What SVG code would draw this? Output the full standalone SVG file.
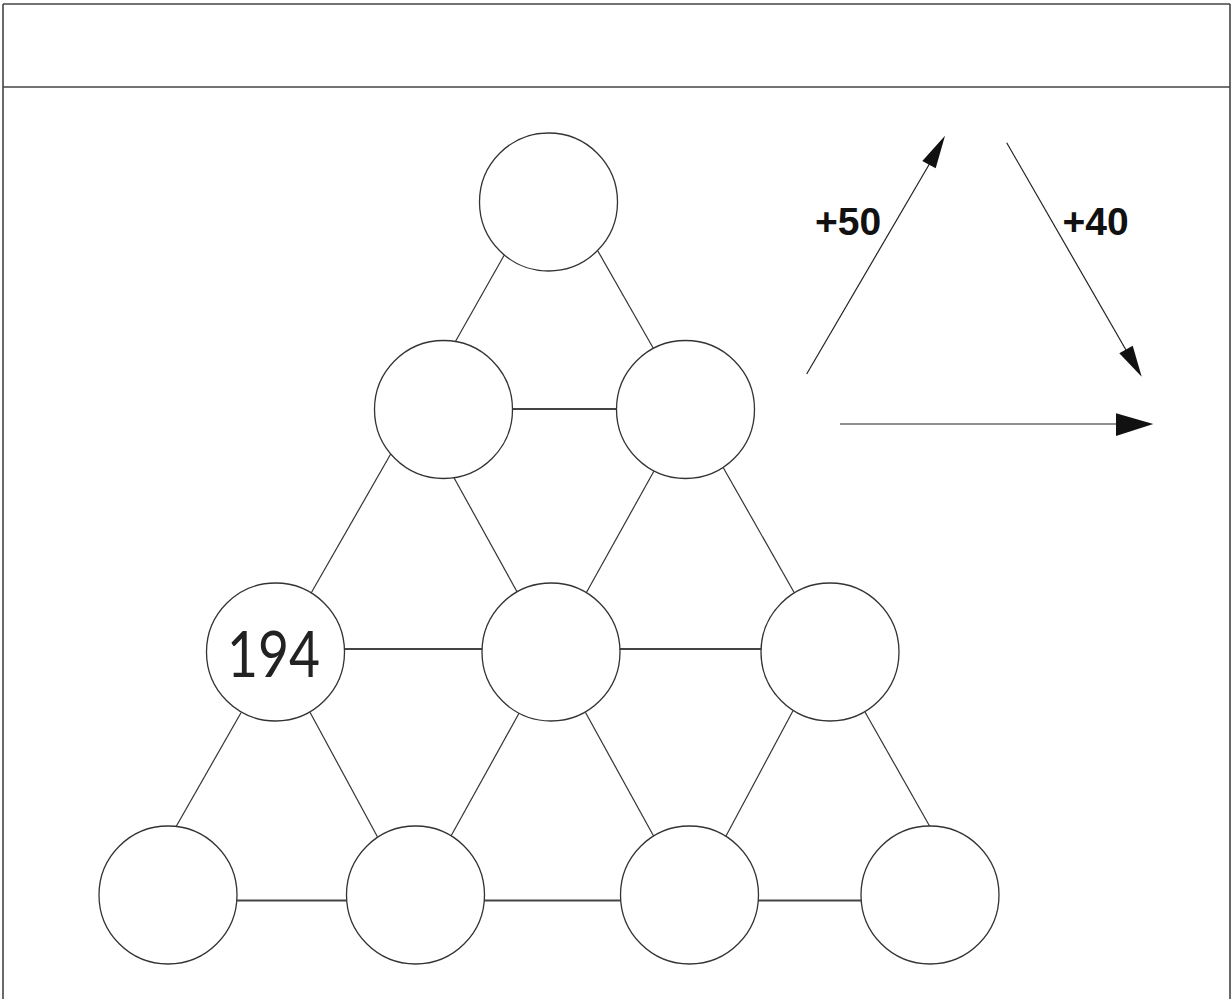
<svg xmlns="http://www.w3.org/2000/svg" width="1231" height="999" viewBox="0 0 1231 999">
<style>
.frame{stroke:#444;stroke-width:1.6;fill:none}
.node{fill:#fff;stroke:#333;stroke-width:1.3}
.edge{stroke:#333;stroke-width:1.2;fill:none}
.hedge{stroke:#444;stroke-width:1.8;fill:none}
.arr{stroke:#222;stroke-width:1.2;fill:none}
.head{fill:#111;stroke:none}
.num{font-family:"Lato","Liberation Sans",sans-serif;font-weight:400;font-size:63px;fill:#222}
.lbl{font-family:"Liberation Sans",Arial,sans-serif;font-weight:bold;font-size:39px;fill:#111}
</style>
<rect width="1231" height="999" fill="#fff"/>
<g id="frame">
<line class="frame" x1="3" y1="4" x2="1230" y2="4"/>
<line class="frame" x1="3" y1="87" x2="1230" y2="87"/>
<line class="frame" x1="3" y1="4" x2="3" y2="999"/>
<line class="frame" x1="1230" y1="4" x2="1230" y2="999"/>
</g>
<g id="connectors">
<line class="edge" x1="504.3" y1="255" x2="455.7" y2="341"/>
<line class="edge" x1="597.7" y1="250.7" x2="653.3" y2="348.3"/>
<line class="hedge" x1="512" y1="409" x2="617" y2="409"/>
<line class="edge" x1="390.7" y1="454" x2="311" y2="593.3"/>
<line class="edge" x1="454" y1="477.7" x2="517.3" y2="592.3"/>
<line class="edge" x1="654" y1="471" x2="586" y2="593.3"/>
<line class="edge" x1="723.3" y1="467.7" x2="794.3" y2="592.7"/>
<line class="hedge" x1="344" y1="649" x2="483" y2="649"/>
<line class="hedge" x1="619" y1="649" x2="762" y2="649"/>
<line class="edge" x1="241" y1="712.7" x2="176" y2="826.7"/>
<line class="edge" x1="310" y1="712.3" x2="377.4" y2="836.7"/>
<line class="edge" x1="519" y1="713.3" x2="451" y2="836"/>
<line class="edge" x1="585.4" y1="712.3" x2="654" y2="836.7"/>
<line class="edge" x1="793" y1="710.7" x2="726" y2="836"/>
<line class="edge" x1="865" y1="712" x2="930" y2="826.7"/>
<line class="hedge" x1="237" y1="900.5" x2="348" y2="900.5"/>
<line class="hedge" x1="484" y1="900.5" x2="622" y2="900.5"/>
<line class="hedge" x1="758" y1="900.5" x2="862" y2="900.5"/>
</g>
<g id="n1"><circle class="node" cx="548.5" cy="202" r="69"/></g>
<g id="n2"><circle class="node" cx="443.5" cy="409.5" r="69"/></g>
<g id="n3"><circle class="node" cx="685.5" cy="409.5" r="69"/></g>
<g id="n4"><circle class="node" cx="275.5" cy="652" r="69"/><text class="num" x="227" y="677" textLength="93" lengthAdjust="spacingAndGlyphs">194</text></g>
<g id="n5"><circle class="node" cx="551" cy="652" r="69"/></g>
<g id="n6"><circle class="node" cx="830" cy="652" r="69"/></g>
<g id="n7"><circle class="node" cx="168" cy="895" r="69"/></g>
<g id="n8"><circle class="node" cx="415.5" cy="895" r="69"/></g>
<g id="n9"><circle class="node" cx="689.5" cy="895" r="69"/></g>
<g id="n10"><circle class="node" cx="930" cy="895" r="69"/></g>
<g id="legend">
<line class="arr" x1="806.7" y1="374" x2="930" y2="163"/>
<polygon class="head" points="945,135.7 922.3,161 935.7,168.3"/>
<line class="arr" x1="1006.7" y1="142.7" x2="1126" y2="350"/>
<polygon class="head" points="1141.7,376.7 1119.3,353.3 1132.7,345.7"/>
<line class="arr" x1="840" y1="424" x2="1118" y2="424"/>
<polygon class="head" points="1153.3,424 1116,413.3 1116,436"/>
<text class="lbl" x="815" y="234.5">+50</text>
<text class="lbl" x="1062.5" y="234.5">+40</text>
</g>
</svg>
